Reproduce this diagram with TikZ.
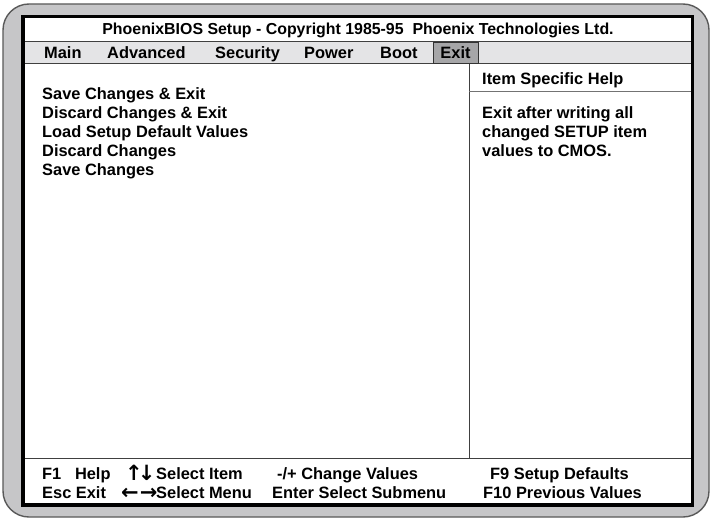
\documentclass[tikz,border=0pt]{standalone}
\usepackage{fontspec}
\setmainfont{Liberation Sans}
\newfontfamily\arrowfont{DejaVu Sans Bold}

\definecolor{casegray}{HTML}{C6C6C8}
\definecolor{bargray}{HTML}{E4E4E6}
\definecolor{selgray}{HTML}{A6A6A8}

\begin{document}
\begin{tikzpicture} [
    x=1pt, y=-1pt,
    txt/.style      = { anchor=base west, inner sep=0pt,
                        font=\bfseries\fontsize{16.4}{18}\selectfont },
    title/.style    = { anchor=base, inner sep=0pt,
                        font=\bfseries\fontsize{15.9}{18}\selectfont },
    keyarrow/.style = { anchor=base west, inner sep=0pt,
                        font=\arrowfont\fontsize{21}{22}\selectfont },
    exitbox/.style  = { rectangle, draw=black!80, line width=1pt, fill=selgray,
                        minimum width=45pt, minimum height=20pt, inner sep=0pt,
                        font=\bfseries\fontsize{16.4}{18}\selectfont },
    rule/.style     = { draw=black!75, line width=0.8pt },
  ]
  \useasboundingbox (0,0) rectangle (711,519);

  % case and screen
  \draw[draw=black!65, line width=1.4pt, fill=casegray, rounded corners=26pt]
    (3,4) rectangle (709,517);
  \fill[white] (23,16.5) rectangle (692.5,505);
  \fill[bargray] (23,41) rectangle (692.5,63);
  \path [rule] (23,41) -- (692.5,41);
  \path [rule] (23,63) -- (692.5,63);

  % title and menu bar
  \node[title](head) at (358,34.5) {PhoenixBIOS Setup - Copyright 1985-95\ \ Phoenix Technologies Ltd.};
  \node[txt](main)     at (44,59)  {Main};
  \node[txt](advanced) at (107,59) {Advanced};
  \node[txt](security) at (215,59) {Security};
  \node[txt](power)    at (304,59) {Power};
  \node[txt](boot)     at (380,59) {Boot};
  \node[exitbox](exit) at (455.5,53) {Exit};

  % help column
  \coordinate (divtop) at (469,63);
  \coordinate (divbot) at (469,458);
  \path [rule] (exit.south -| divtop) -- (divbot);
  \path [draw=black!55, line width=1pt] (469,91) -- (692.5,91);
  \node[txt](helphead) at (482,84)  {Item Specific Help};
  \node[txt](help1)    at (482,118) {Exit after writing all};
  \node[txt](help2)    at (482,137) {changed SETUP item};
  \node[txt](help3)    at (482,156) {values to CMOS.};

  % exit items
  \node[txt](savexit)  at (42,99)  {Save Changes \& Exit};
  \node[txt](discexit) at (42,118) {Discard Changes \& Exit};
  \node[txt](loaddef)  at (42,137) {Load Setup Default Values};
  \node[txt](discard)  at (42,156) {Discard Changes};
  \node[txt](save)     at (42,175) {Save Changes};

  % key legend
  \path [rule] (23,458) -- (692.5,458);
  \node[txt](fone)        at (42,479)  {F1\ \ \ Help};
  \node[keyarrow](updown) at (125,480) {↑\kern-5pt↓};
  \node[txt](selitem)     at (156,479) {Select Item};
  \node[txt](change)      at (277,479) {-/+ Change Values};
  \node[txt](fnine)       at (490,479) {F9 Setup Defaults};
  \node[txt](escexit)     at (42,498)  {Esc Exit};
  \node[keyarrow](leftright) at (121,499) {←\kern1pt→};
  \node[txt](selmenu)     at (156,498) {Select Menu};
  \node[txt](enter)       at (272,498) {Enter Select Submenu};
  \node[txt](ften)        at (483,498) {F10 Previous Values};

  % screen border
  \draw[black, line width=3.5pt] (23,16.5) rectangle (692.5,505);
\end{tikzpicture}
\end{document}
